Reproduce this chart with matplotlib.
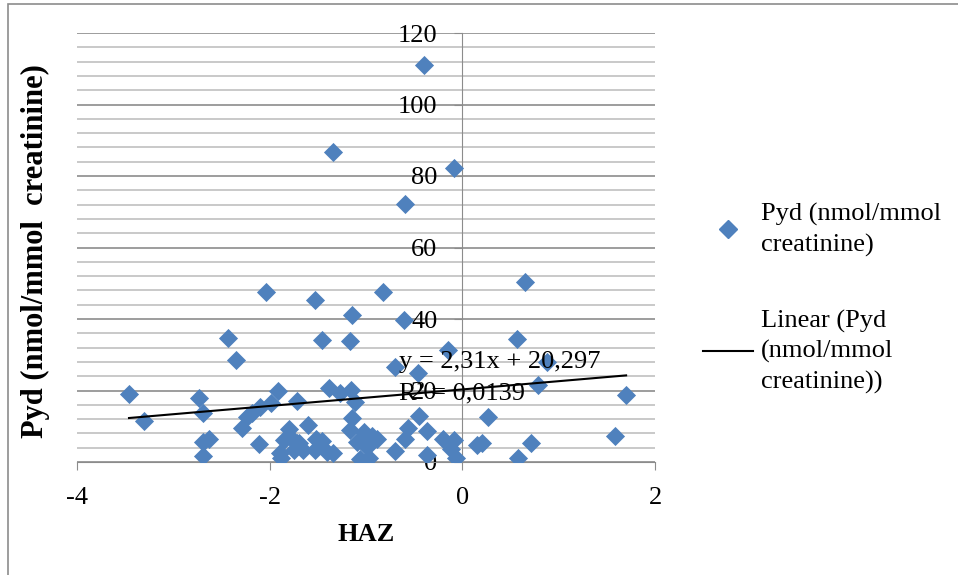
import numpy as np
import matplotlib
matplotlib.use("Agg")
import matplotlib.pyplot as plt
from matplotlib.lines import Line2D
from matplotlib.patches import Rectangle
from matplotlib.ticker import MultipleLocator

plt.rcParams["font.family"] = ["Liberation Serif", "DejaVu Serif"]
plt.rcParams["axes.unicode_minus"] = False

# HAZ vs Pyd values
haz = [-0.40, -1.34, -0.09, -0.60, -2.04, 0.65, -1.53, -0.82, -1.15, -0.61,
       -2.43, -1.46, -1.17, 0.57, -2.35, -0.15, -0.70, -0.46, -3.46, -3.30,
       -2.73, -2.69, -2.69, -2.63, -2.69, -2.11, -2.29, -2.24, -2.18, -2.10,
       -1.99, -1.91, -1.72, -1.80, -1.60, -1.85, -1.79, -1.72, -1.89, -1.88,
       -1.75, -1.65, -1.53, -1.52, -1.40, -1.34, -1.38, -1.27, -1.16, -1.11,
       -1.15, -1.17, -1.02, -1.09, -0.94, -0.89, -0.99, -1.06, -0.97, -0.70,
       -0.59, -0.56, -0.45, -0.37, -0.37, -0.20, -0.09, -0.12, -0.07, 0.88,
       0.79, 1.70, 0.27, 0.15, 0.20, 0.71, 0.58, 1.58, -1.46, -1.70]
pyd = [111.0, 86.7, 82.2, 72.2, 47.5, 50.4, 45.3, 47.5, 41.0, 39.6,
       34.8, 34.0, 33.8, 34.4, 28.4, 31.3, 26.7, 24.8, 19.0, 11.6,
       18.0, 13.6, 5.7, 6.3, 1.7, 4.9, 9.4, 12.7, 13.6, 15.5,
       16.4, 19.9, 17.1, 9.2, 10.3, 6.2, 7.1, 5.4, 2.4, 1.0,
       3.4, 3.4, 3.4, 6.3, 2.9, 2.4, 20.6, 19.2, 20.1, 16.9,
       12.2, 9.0, 8.5, 5.7, 7.3, 6.3, 4.3, 0.8, 1.0, 3.1,
       6.4, 9.4, 12.9, 8.8, 2.0, 6.4, 6.2, 3.6, 1.0, 28.1,
       21.5, 18.7, 12.7, 4.8, 5.4, 5.4, 1.0, 7.4, 6.0, 5.2]

slope = 2.31
intercept = 20.297
r_squared = "0,0139"

series_label = "Pyd (nmol/mmol\ncreatinine)"
trend_label = "Linear (Pyd\n(nmol/mmol\ncreatinine))"

fig = plt.figure(figsize=(9.58, 5.75), dpi=100)
ax = fig.add_axes([77 / 958, 113 / 575, 578 / 958, 429 / 575])

blue = "#4F81BD"
ax.scatter(haz, pyd, marker="D", s=95, color=blue, zorder=3, linewidths=0)

xs = np.array([min(haz), max(haz)])
ax.plot(xs, slope * xs + intercept, color="black", lw=1.5, zorder=4)

ax.text(-0.66, 28, "y = 2,31x + 20,297", fontsize=19, va="center", ha="left", zorder=5)
ax.text(-0.66, 19.3, "R² = " + r_squared, fontsize=19, va="center", ha="left", zorder=5)

ax.set_xlim(-4, 2)
ax.set_ylim(0, 120)
ax.xaxis.set_major_locator(MultipleLocator(2))
ax.yaxis.set_major_locator(MultipleLocator(20))
ax.yaxis.set_minor_locator(MultipleLocator(4))

ax.grid(axis="y", which="minor", color="#c0c0c0", lw=1.2)
ax.grid(axis="y", which="major", color="#8c8c8c", lw=1.2)
ax.set_axisbelow(True)

for side in ["top", "right"]:
    ax.spines[side].set_visible(False)
ax.spines["left"].set_position(("data", 0))
ax.spines["left"].set_color("#8c8c8c")
ax.spines["bottom"].set_color("#8c8c8c")
ax.tick_params(axis="both", which="major", color="#8c8c8c", length=6,
               labelsize=19, direction="out")
ax.tick_params(axis="y", which="minor", length=0)
ax.tick_params(axis="y", pad=12)
ax.tick_params(axis="x", pad=12)

ax.set_xlabel("HAZ", fontsize=19, fontweight="bold", labelpad=10)
fig.text(35 / 958, 1 - 251 / 575, "Pyd (nmol/mmol  creatinine)", rotation=90,
         fontsize=22, fontweight="bold", ha="center", va="center")

handles = [
    Line2D([], [], marker="D", color=blue, ls="none", markersize=9),
    Line2D([], [], color="black", lw=1.5),
]
leg = fig.legend(handles, [series_label, trend_label], loc="upper left",
                 bbox_to_anchor=(690 / 958, 1 - 190 / 575), frameon=False,
                 fontsize=19, handlelength=1.9, handletextpad=0.3,
                 labelspacing=2.0, borderpad=0)
for t in leg.get_texts():
    t.set_linespacing(1.42)

fig.patches.append(Rectangle((8 / 958, -0.1), 1.2, 1.1 - 4.5 / 575,
                             transform=fig.transFigure, fill=False,
                             edgecolor="#8c8c8c", lw=1.2))

fig.savefig("out.png", dpi=100)
